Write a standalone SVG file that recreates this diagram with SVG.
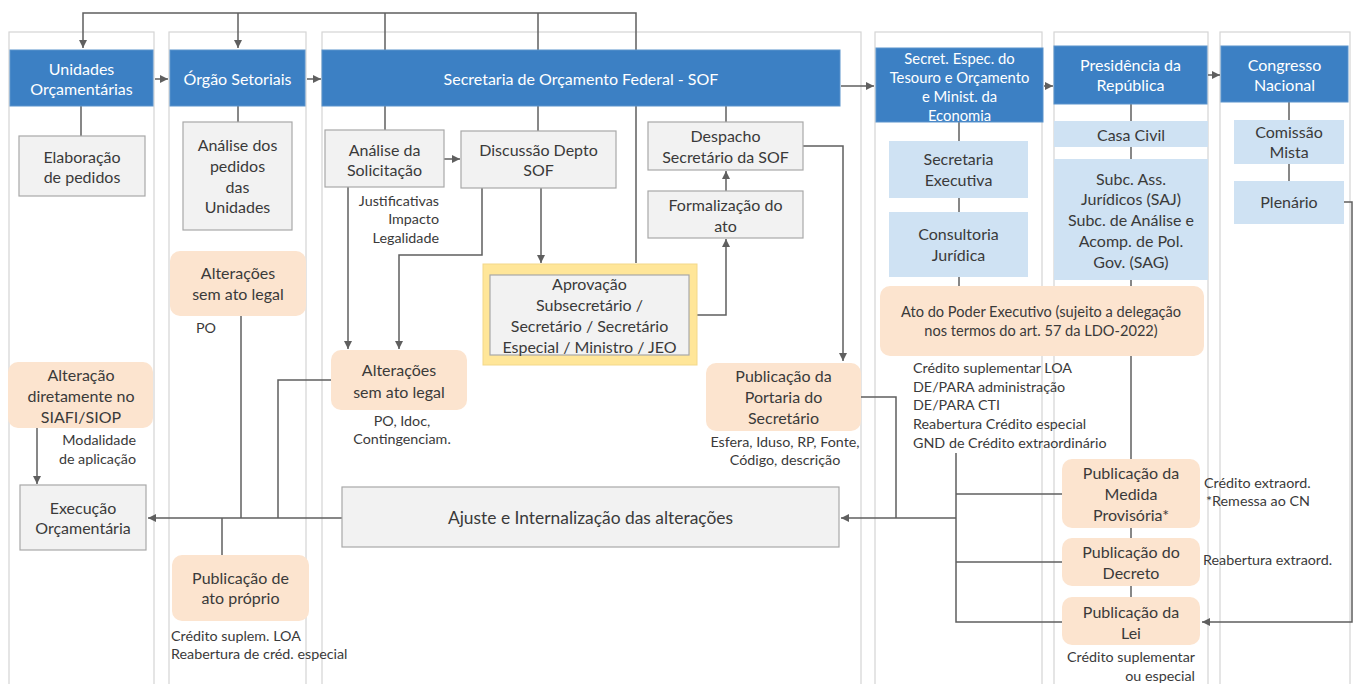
<svg xmlns="http://www.w3.org/2000/svg" width="1354" height="684" viewBox="0 0 1354 684">
<style>
  text { font-family: Lato, "Liberation Sans", sans-serif; fill: #3a3a3a; font-size: 16px; }
  .c { text-anchor: middle; }
  .r { text-anchor: end; }
  .ht { fill: #ffffff; text-anchor: middle; }
  .sm { font-size: 14.3px; }
  .lane { fill: #ffffff; stroke: #d4d4d4; stroke-width: 1.2; }
  .hdr { fill: #3c80c4; stroke: #5a93cc; stroke-width: 1; }
  .gbox { fill: #f2f2f2; stroke: #a8a8a8; stroke-width: 1.2; }
  .bbox { fill: #cfe2f3; }
  .pbox { fill: #fce4cf; }
  .ln { fill: none; stroke: #5f5f5f; stroke-width: 1.5; }
  .ar { marker-end: url(#arrow); }
</style>
<defs>
  <marker id="arrow" viewBox="0 0 8 8" refX="8" refY="4" markerWidth="8" markerHeight="8" markerUnits="userSpaceOnUse" orient="auto">
    <path d="M0,0 L8,4 L0,8 z" fill="#5f5f5f"/>
  </marker>
</defs>
<rect width="1354" height="684" fill="#ffffff"/>

<!-- swimlanes -->
<g id="lanes">
  <rect id="lane-uo" class="lane" x="9" y="32" width="145" height="670"/>
  <rect id="lane-os" class="lane" x="169" y="32" width="137" height="670"/>
  <rect id="lane-sof" class="lane" x="322" y="32" width="539" height="670"/>
  <rect id="lane-ste" class="lane" x="875" y="32" width="167" height="670"/>
  <rect id="lane-pr" class="lane" x="1054" y="32" width="154" height="670"/>
  <rect id="lane-cn" class="lane" x="1220" y="32" width="130" height="670"/>
</g>

<!-- connectors -->
<g id="connectors">
  <path class="ln ar" d="M636 263 V13 H83 V48"/>
  <path class="ln ar" d="M238 13 V48"/>
  <path class="ln" d="M385 13 V50"/>
  <path class="ln" d="M538 13 V50"/>

  <path class="ln ar" d="M155 79 H168"/>
  <path class="ln ar" d="M307 79 H321"/>
  <path class="ln ar" d="M841 86 H874"/>
  <path class="ln ar" d="M1044 86 H1053"/>
  <path class="ln ar" d="M1208 75 H1220"/>

  <path class="ln" d="M81 106 V136"/>
  <path class="ln" d="M238 106 V122"/>
  <path class="ln" d="M385 106 V130"/>
  <path class="ln" d="M538 106 V131"/>
  <path class="ln" d="M726 106 V122"/>

  <path class="ln ar" d="M444 159 H460"/>
  <path class="ln ar" d="M726 191 V171"/>
  <path class="ln ar" d="M697 315 H726 V239"/>
  <path class="ln ar" d="M541 188 V263"/>
  <path class="ln ar" d="M482 188 V255 H399 V349"/>
  <path class="ln ar" d="M348 187 V349"/>
  <path class="ln ar" d="M803 146 H843 V361"/>

  <path class="ln" d="M241 316 V518"/>
  <path class="ln" d="M331 380 H278 V518"/>
  <path class="ln ar" d="M342 518 H148"/>
  <path class="ln" d="M222 518 V555"/>
  <path class="ln ar" d="M37 428 V484"/>

  <path class="ln" d="M861 397 H896 V518"/>
  <path class="ln ar" d="M956 518 H841"/>
  <path class="ln" d="M956 453 V622 H1062"/>
  <path class="ln" d="M956 494 H1062"/>
  <path class="ln" d="M956 562 H1062"/>

  <path class="ln" d="M959 122 V141"/>
  <path class="ln" d="M959 198 V212"/>
  <path class="ln" d="M959 277 V286"/>

  <path class="ln" d="M1131 104 V121"/>
  <path class="ln" d="M1131 147 V159"/>
  <path class="ln" d="M1131 280 V286"/>
  <path class="ln" d="M1131 356 V459"/>
  <path class="ln" d="M1131 528 V538"/>
  <path class="ln" d="M1131 586 V597"/>

  <path class="ln" d="M1289 102 V120"/>
  <path class="ln" d="M1289 164 V181"/>
  <path class="ln ar" d="M1344 202 H1352 V622 H1202"/>
</g>

<!-- Unidades Orçamentárias -->
<g id="hdr-uo">
  <rect class="hdr" x="10" y="50" width="143" height="56"/>
  <text class="ht" x="81.5" y="75">Unidades</text>
  <text class="ht" x="81.5" y="95">Orçamentárias</text>
</g>
<g id="elaboracao">
  <rect class="gbox" x="19" y="136" width="126" height="60"/>
  <text class="c" x="82" y="163">Elaboração</text>
  <text class="c" x="82" y="183">de pedidos</text>
</g>
<g id="alteracao-siafi">
  <rect class="pbox" x="8" y="362" width="145" height="66" rx="10"/>
  <text class="c" x="81" y="381">Alteração</text>
  <text class="c" x="81" y="402">diretamente no</text>
  <text class="c" x="81" y="423">SIAFI/SIOP</text>
</g>
<g id="nota-modalidade">
  <text class="r sm" x="136" y="445">Modalidade</text>
  <text class="r sm" x="136" y="464">de aplicação</text>
</g>
<g id="execucao">
  <rect class="gbox" x="20" y="485" width="126" height="65"/>
  <text class="c" x="83" y="514">Execução</text>
  <text class="c" x="83" y="534">Orçamentária</text>
</g>

<!-- Órgão Setoriais -->
<g id="hdr-os">
  <rect class="hdr" x="170" y="50" width="135" height="56"/>
  <text class="ht" x="237.5" y="85">Órgão Setoriais</text>
</g>
<g id="analise-pedidos">
  <rect class="gbox" x="183" y="122" width="109" height="108"/>
  <text class="c" x="237.5" y="151">Análise dos</text>
  <text class="c" x="237.5" y="172">pedidos</text>
  <text class="c" x="237.5" y="193">das</text>
  <text class="c" x="237.5" y="213">Unidades</text>
</g>
<g id="alteracoes-os">
  <rect class="pbox" x="170" y="251" width="136" height="65" rx="10"/>
  <text class="c" x="238" y="279">Alterações</text>
  <text class="c" x="238" y="300">sem ato legal</text>
  <text class="sm" x="196" y="333">PO</text>
</g>
<g id="ato-proprio">
  <rect class="pbox" x="172" y="555" width="137" height="66" rx="10"/>
  <text class="c" x="240.5" y="584">Publicação de</text>
  <text class="c" x="240.5" y="604">ato próprio</text>
</g>
<g id="nota-ato-proprio">
  <text class="sm" x="171" y="641">Crédito suplem. LOA</text>
  <text class="sm" x="171" y="659">Reabertura de créd. especial</text>
</g>

<!-- Secretaria de Orçamento Federal -->
<g id="hdr-sof">
  <rect class="hdr" x="322" y="50" width="518" height="56"/>
  <text class="ht" x="581" y="85">Secretaria de Orçamento Federal - SOF</text>
</g>
<g id="analise-solicitacao">
  <rect class="gbox" x="325" y="130" width="119" height="57"/>
  <text class="c" x="384.5" y="156">Análise da</text>
  <text class="c" x="384.5" y="176">Solicitação</text>
</g>
<g id="nota-analise">
  <text class="r sm" x="439" y="206">Justificativas</text>
  <text class="r sm" x="439" y="224">Impacto</text>
  <text class="r sm" x="439" y="243">Legalidade</text>
</g>
<g id="discussao">
  <rect class="gbox" x="461" y="131" width="155" height="57"/>
  <text class="c" x="538.5" y="156">Discussão Depto</text>
  <text class="c" x="538.5" y="176">SOF</text>
</g>
<g id="despacho">
  <rect class="gbox" x="648" y="122" width="155" height="48"/>
  <text class="c" x="725.5" y="142">Despacho</text>
  <text class="c" x="725.5" y="163">Secretário da SOF</text>
</g>
<g id="formalizacao">
  <rect class="gbox" x="648" y="191" width="155" height="47"/>
  <text class="c" x="725.5" y="211">Formalização do</text>
  <text class="c" x="725.5" y="232">ato</text>
</g>
<g id="aprovacao">
  <rect x="483" y="264" width="214" height="101" fill="#ffe699" stroke="#f3d889" stroke-width="1"/>
  <rect class="gbox" x="490" y="275" width="199" height="80"/>
  <text class="c" x="589.5" y="290">Aprovação</text>
  <text class="c" x="589.5" y="311">Subsecretário /</text>
  <text class="c" x="589.5" y="332">Secretário / Secretário</text>
  <text class="c" x="589.5" y="353">Especial / Ministro / JEO</text>
</g>
<g id="alteracoes-sof">
  <rect class="pbox" x="331" y="350" width="136" height="60" rx="10"/>
  <text class="c" x="399" y="376">Alterações</text>
  <text class="c" x="399" y="398">sem ato legal</text>
</g>
<g id="nota-alteracoes-sof">
  <text class="c sm" x="402" y="426">PO, Idoc,</text>
  <text class="c sm" x="402" y="444">Contingenciam.</text>
</g>
<g id="portaria">
  <rect class="pbox" x="706" y="363" width="155" height="68" rx="10"/>
  <text class="c" x="783.5" y="382">Publicação da</text>
  <text class="c" x="783.5" y="403">Portaria do</text>
  <text class="c" x="783.5" y="424">Secretário</text>
</g>
<g id="nota-portaria">
  <text class="c sm" x="785" y="447">Esfera, Iduso, RP, Fonte,</text>
  <text class="c sm" x="785" y="465">Código, descrição</text>
</g>
<g id="ajuste">
  <rect class="gbox" x="342" y="487" width="497" height="60"/>
  <text class="c" x="590.5" y="524" style="font-size:17.4px">Ajuste e Internalização das alterações</text>
</g>

<!-- Secretaria Especial do Tesouro e Orçamento -->
<g id="hdr-ste">
  <rect class="hdr" x="876" y="48" width="167" height="74"/>
  <text class="ht" x="959.5" y="64" style="font-size:14.8px">Secret. Espec. do</text>
  <text class="ht" x="959.5" y="83" style="font-size:14.8px">Tesouro e Orçamento</text>
  <text class="ht" x="959.5" y="102" style="font-size:14.8px">e Minist. da</text>
  <text class="ht" x="959.5" y="121" style="font-size:14.8px">Economia</text>
</g>
<g id="sec-executiva">
  <rect class="bbox" x="889" y="141" width="139" height="57"/>
  <text class="c" x="958.5" y="165">Secretaria</text>
  <text class="c" x="958.5" y="186">Executiva</text>
</g>
<g id="consultoria">
  <rect class="bbox" x="889" y="212" width="139" height="65"/>
  <text class="c" x="958.5" y="240">Consultoria</text>
  <text class="c" x="958.5" y="261">Jurídica</text>
</g>
<g id="ato-poder-executivo">
  <rect class="pbox" x="880" y="286" width="324" height="70" rx="10"/>
  <text class="c" x="1041" y="317" style="font-size:14.6px">Ato do Poder Executivo (sujeito a delegação</text>
  <text class="c" x="1041" y="336" style="font-size:14.6px">nos termos do art. 57 da LDO-2022)</text>
</g>
<g id="nota-ato-poder">
  <text class="sm" x="913" y="373">Crédito suplementar LOA</text>
  <text class="sm" x="913" y="392">DE/PARA administração</text>
  <text class="sm" x="913" y="410">DE/PARA CTI</text>
  <text class="sm" x="913" y="429">Reabertura Crédito especial</text>
  <text class="sm" x="913" y="448">GND de Crédito extraordinário</text>
</g>

<!-- Presidência da República -->
<g id="hdr-pr">
  <rect class="hdr" x="1054" y="46" width="153" height="58"/>
  <text class="ht" x="1130.5" y="71">Presidência da</text>
  <text class="ht" x="1130.5" y="91">República</text>
</g>
<g id="casa-civil">
  <rect class="bbox" x="1054" y="121" width="154" height="26"/>
  <text class="c" x="1131" y="141">Casa Civil</text>
</g>
<g id="subchefias">
  <rect class="bbox" x="1054" y="159" width="154" height="121"/>
  <text class="c" x="1131" y="185">Subc. Ass.</text>
  <text class="c" x="1131" y="205">Jurídicos (SAJ)</text>
  <text class="c" x="1131" y="226">Subc. de Análise e</text>
  <text class="c" x="1131" y="247">Acomp. de Pol.</text>
  <text class="c" x="1131" y="268">Gov. (SAG)</text>
</g>
<g id="medida-provisoria">
  <rect class="pbox" x="1062" y="459" width="138" height="69" rx="10"/>
  <text class="c" x="1131" y="479">Publicação da</text>
  <text class="c" x="1131" y="500">Medida</text>
  <text class="c" x="1131" y="521">Provisória*</text>
</g>
<g id="nota-mp">
  <text class="sm" x="1204" y="488">Crédito extraord.</text>
  <text class="sm" x="1206" y="506">*Remessa ao CN</text>
</g>
<g id="decreto">
  <rect class="pbox" x="1062" y="538" width="138" height="48" rx="10"/>
  <text class="c" x="1131" y="558">Publicação do</text>
  <text class="c" x="1131" y="579">Decreto</text>
</g>
<g id="nota-decreto">
  <text class="sm" x="1203" y="565">Reabertura extraord.</text>
</g>
<g id="lei">
  <rect class="pbox" x="1062" y="597" width="138" height="48" rx="10"/>
  <text class="c" x="1131" y="618">Publicação da</text>
  <text class="c" x="1131" y="639">Lei</text>
</g>
<g id="nota-lei">
  <text class="r sm" x="1195" y="662">Crédito suplementar</text>
  <text class="r sm" x="1195" y="681">ou especial</text>
</g>

<!-- Congresso Nacional -->
<g id="hdr-cn">
  <rect class="hdr" x="1221" y="46" width="127" height="56"/>
  <text class="ht" x="1284.5" y="71">Congresso</text>
  <text class="ht" x="1284.5" y="91">Nacional</text>
</g>
<g id="comissao-mista">
  <rect class="bbox" x="1234" y="120" width="110" height="44"/>
  <text class="c" x="1289" y="138">Comissão</text>
  <text class="c" x="1289" y="158">Mista</text>
</g>
<g id="plenario">
  <rect class="bbox" x="1234" y="181" width="110" height="43"/>
  <text class="c" x="1289" y="208">Plenário</text>
</g>
</svg>
